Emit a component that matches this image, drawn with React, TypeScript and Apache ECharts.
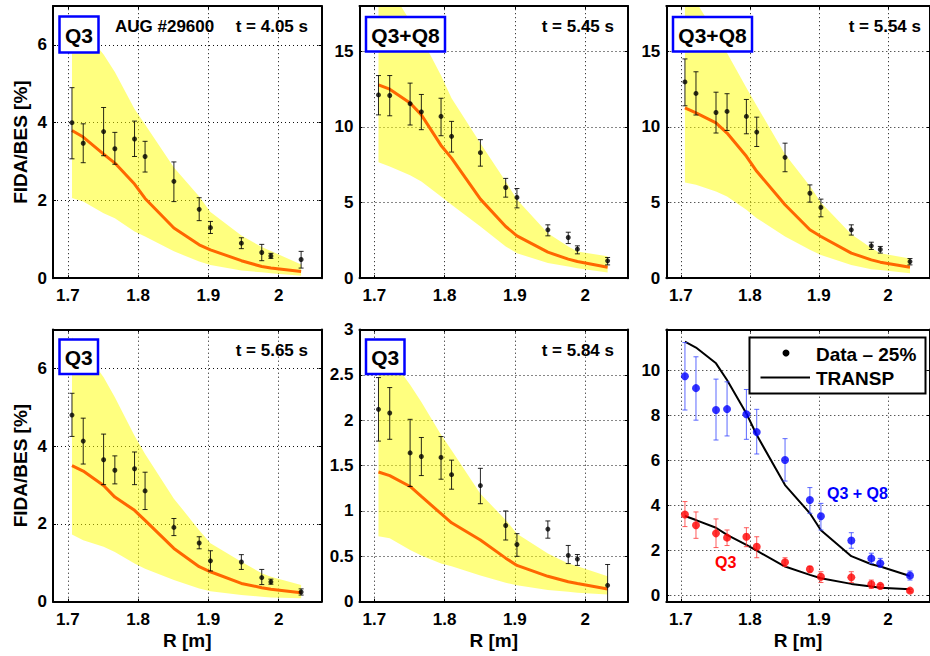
import React, { useEffect, useRef } from 'react';
import * as echarts from 'echarts';

// Major radius positions of the measurement channels [m]
const R = [1.706, 1.722, 1.751, 1.767, 1.795, 1.81, 1.851, 1.887, 1.903, 1.947, 1.976, 1.989, 2.032];
const X_TICKS = [1.7, 1.8, 1.9, 2.0];

// Panel 1: Q3, t = 4.05 s
const p1Data = [4.0, 3.47, 3.77, 3.33, 3.58, 3.13, 2.49, 1.77, 1.3, 0.9, 0.66, 0.57, 0.48];
const p1Hi = [4.9, 3.97, 4.39, 3.75, 4.04, 3.52, 2.99, 2.07, 1.46, 1.04, 0.87, 0.64, 0.69];
const p1Lo = [3.07, 2.97, 3.15, 2.93, 3.13, 2.73, 1.97, 1.48, 1.15, 0.76, 0.45, 0.51, 0.26];
const p1Transp = [3.8, 3.63, 3.19, 2.96, 2.42, 2.05, 1.29, 0.86, 0.73, 0.45, 0.3, 0.26, 0.17];
const p1BandHi = [6.6, 6.4, 5.75, 5.3, 4.35, 3.95, 2.85, 2.1, 1.7, 1.1, 0.8, 0.7, 0.35];
const p1BandLo = [2.06, 1.97, 1.67, 1.54, 1.2, 1.07, 0.69, 0.43, 0.34, 0.2, 0.15, 0.13, 0.06];

// Panel 2: Q3+Q8, t = 5.45 s
const p2Data = [12.12, 12.08, 11.54, 11.0, 10.7, 9.38, 8.3, 6.0, 5.34, 3.2, 2.69, 1.92, 1.15];
const p2Hi = [13.4, 13.4, 12.9, 12.15, 11.9, 10.37, 9.16, 6.6, 5.93, 3.53, 3.04, 2.14, 1.37];
const p2Lo = [10.8, 10.74, 10.13, 9.82, 9.42, 8.34, 7.41, 5.36, 4.65, 2.8, 2.29, 1.61, 0.88];
const p2Transp = [12.79, 12.5, 11.58, 10.8, 8.78, 7.94, 5.23, 3.42, 2.8, 1.72, 1.26, 1.1, 0.73];
const p2BandHi = [19.5, 19.2, 17.0, 15.9, 13.4, 11.9, 8.93, 6.4, 5.2, 2.98, 2.1, 1.76, 1.45];
const p2BandLo = [7.66, 7.39, 6.8, 6.4, 5.4, 4.85, 3.42, 2.1, 1.65, 1.0, 0.77, 0.66, 0.38];

// Panel 3: Q3+Q8, t = 5.54 s
const p3Data = [12.98, 12.22, 10.96, 11.03, 10.7, 9.66, 7.99, 5.62, 4.68, 3.2, 2.14, 1.9, 1.1];
const p3Hi = [14.5, 13.65, 12.3, 12.2, 11.82, 10.65, 8.93, 6.17, 5.23, 3.53, 2.38, 2.1, 1.3];
const p3Lo = [11.4, 10.79, 9.6, 9.77, 9.55, 8.71, 7.04, 5.03, 4.06, 2.85, 1.9, 1.66, 0.88];
const p3Transp = [11.26, 10.93, 10.27, 9.6, 8.06, 7.07, 4.86, 3.2, 2.76, 1.66, 1.21, 1.06, 0.73];
const p3BandHi = [19.5, 18.3, 16.1, 14.9, 12.6, 11.4, 8.2, 6.1, 5.0, 2.9, 2.0, 1.65, 1.3];
const p3BandLo = [6.33, 6.18, 5.74, 5.4, 4.52, 3.97, 2.76, 1.88, 1.54, 0.88, 0.6, 0.55, 0.33];

// Panel 4: Q3, t = 5.65 s
const p4Data = [4.8, 4.13, 3.65, 3.38, 3.42, 2.85, 1.91, 1.51, 1.05, 1.02, 0.62, 0.51, 0.25];
const p4Hi = [5.36, 4.72, 4.31, 3.75, 3.85, 3.33, 2.14, 1.67, 1.31, 1.21, 0.83, 0.58, 0.33];
const p4Lo = [4.25, 3.54, 3.01, 3.03, 3.01, 2.37, 1.7, 1.36, 0.79, 0.83, 0.44, 0.45, 0.17];
const p4Transp = [3.5, 3.36, 2.99, 2.69, 2.35, 2.09, 1.37, 0.9, 0.77, 0.47, 0.36, 0.32, 0.23];
const p4BandHi = [6.8, 6.5, 5.77, 5.26, 4.27, 3.8, 2.65, 1.84, 1.5, 1.03, 0.73, 0.64, 0.43];
const p4BandLo = [1.73, 1.58, 1.41, 1.28, 0.98, 0.85, 0.56, 0.34, 0.27, 0.17, 0.13, 0.11, 0.09];

// Panel 5: Q3, t = 5.84 s
const p5Data = [2.12, 2.08, 1.64, 1.6, 1.59, 1.4, 1.28, 0.84, 0.63, 0.8, 0.51, 0.47, 0.18];
const p5Hi = [2.47, 2.36, 2.01, 1.81, 1.82, 1.56, 1.47, 1.0, 0.75, 0.89, 0.62, 0.52, 0.41];
const p5Lo = [1.77, 1.79, 1.27, 1.39, 1.35, 1.24, 1.08, 0.68, 0.5, 0.7, 0.42, 0.4, -0.06];
const p5Transp = [1.43, 1.39, 1.27, 1.16, 0.97, 0.87, 0.68, 0.48, 0.4, 0.28, 0.22, 0.2, 0.14];
const p5BandHi = [2.8, 2.7, 2.39, 2.2, 1.84, 1.67, 1.19, 0.9, 0.75, 0.53, 0.42, 0.39, 0.28];
const p5BandLo = [0.72, 0.7, 0.57, 0.51, 0.42, 0.39, 0.29, 0.21, 0.18, 0.13, 0.11, 0.1, 0.08];

// Panel 6: comparison (Data - 25%) vs TRANSP
const p6Blue = [9.73, 9.2, 8.23, 8.27, 8.04, 7.25, 6.01, 4.24, 3.52, 2.44, 1.65, 1.43, 0.89];
const p6BlueHi = [11.22, 10.59, 9.6, 9.48, 9.14, 8.26, 6.96, 4.79, 4.09, 2.79, 1.88, 1.65, 1.09];
const p6BlueLo = [8.23, 7.78, 6.9, 7.08, 6.93, 6.28, 5.08, 3.65, 2.91, 2.1, 1.43, 1.26, 0.69];
const p6Red = [3.6, 3.12, 2.76, 2.57, 2.61, 2.17, 1.48, 1.17, 0.84, 0.81, 0.5, 0.43, 0.22];
const p6RedHi = [4.17, 3.71, 3.4, 2.91, 3.01, 2.61, 1.68, 1.3, 1.06, 1.06, 0.69, 0.5, 0.28];
const p6RedLo = [3.06, 2.54, 2.13, 2.22, 2.17, 1.68, 1.29, 1.05, 0.58, 0.58, 0.32, 0.37, 0.16];
const p6TranspQ38 = [11.26, 11.0, 10.3, 9.56, 8.08, 7.12, 4.9, 3.65, 2.9, 1.75, 1.39, 1.29, 0.87];
const p6TranspQ3 = [3.53, 3.35, 3.01, 2.69, 2.25, 1.99, 1.29, 0.92, 0.77, 0.52, 0.4, 0.35, 0.28];

const FONT = '"Liberation Sans", Arial, Helvetica, sans-serif';
const X_MIN = 1.679;
const X_MAX = 2.061;
const LEFTS = [53, 359.5, 666.3];
const TOPS = [6, 329.5];
const GW = 268.5;
const GH = 272.2;

type Panel = {
  row: number; col: number; yMin: number; yMax: number; yTicks: number[]; yName: string;
  data?: number[]; hi?: number[]; lo?: number[]; transp?: number[]; bandHi?: number[]; bandLo?: number[];
};

const panels: Panel[] = [
  { row: 0, col: 0, yMin: 0, yMax: 7, yTicks: [0, 2, 4, 6], yName: 'FIDA/BES [%]', data: p1Data, hi: p1Hi, lo: p1Lo, transp: p1Transp, bandHi: p1BandHi, bandLo: p1BandLo },
  { row: 0, col: 1, yMin: 0, yMax: 18, yTicks: [0, 5, 10, 15], yName: '', data: p2Data, hi: p2Hi, lo: p2Lo, transp: p2Transp, bandHi: p2BandHi, bandLo: p2BandLo },
  { row: 0, col: 2, yMin: 0, yMax: 18, yTicks: [0, 5, 10, 15], yName: '', data: p3Data, hi: p3Hi, lo: p3Lo, transp: p3Transp, bandHi: p3BandHi, bandLo: p3BandLo },
  { row: 1, col: 0, yMin: 0, yMax: 7, yTicks: [0, 2, 4, 6], yName: 'FIDA/BES [%]', data: p4Data, hi: p4Hi, lo: p4Lo, transp: p4Transp, bandHi: p4BandHi, bandLo: p4BandLo },
  { row: 1, col: 1, yMin: 0, yMax: 3, yTicks: [0, 0.5, 1, 1.5, 2, 2.5, 3], yName: '', data: p5Data, hi: p5Hi, lo: p5Lo, transp: p5Transp, bandHi: p5BandHi, bandLo: p5BandLo },
  { row: 1, col: 2, yMin: -0.27, yMax: 11.8, yTicks: [0, 2, 4, 6, 8, 10], yName: '' },
];

const labelStyle = { fontSize: 17, fontWeight: 'bold' as const, color: '#000', fontFamily: FONT };

function gridLineSeries(idx: number, p: Panel) {
  const lines: any[] = [];
  X_TICKS.forEach((v) => { if (v > X_MIN && v < X_MAX) lines.push({ xAxis: v }); });
  p.yTicks.forEach((v) => { if (v > p.yMin + 1e-9 && v < p.yMax - 1e-9) lines.push({ yAxis: v }); });
  return {
    type: 'line',
    xAxisIndex: idx * 2,
    yAxisIndex: idx * 2,
    data: [],
    silent: true,
    z: 0,
    markLine: {
      silent: true,
      z: 0,
      symbol: ['none', 'none'],
      animation: false,
      label: { show: false },
      emphasis: { disabled: true },
      lineStyle: { type: [1, 3], color: '#111', width: 1 },
      data: lines,
    },
  };
}

function errorBarSeries(idx: number, lo: number[], hi: number[], color: string, opacity: number) {
  return {
    type: 'custom',
    xAxisIndex: idx * 2,
    yAxisIndex: idx * 2,
    clip: true,
    silent: true,
    z: 3,
    data: R.map((r, k) => [r, lo[k], hi[k]]),
    encode: { x: 0, y: [1, 2] },
    renderItem: (params: any, api: any) => {
      const x = api.value(0);
      const pLo = api.coord([x, api.value(1)]);
      const pHi = api.coord([x, api.value(2)]);
      const hw = 2.5;
      const style = { stroke: color, lineWidth: 1, opacity };
      return {
        type: 'group',
        children: [
          { type: 'line', shape: { x1: pLo[0], y1: pLo[1], x2: pHi[0], y2: pHi[1] }, style },
          { type: 'line', shape: { x1: pLo[0] - hw, y1: pLo[1], x2: pLo[0] + hw, y2: pLo[1] }, style },
          { type: 'line', shape: { x1: pHi[0] - hw, y1: pHi[1], x2: pHi[0] + hw, y2: pHi[1] }, style },
        ],
      };
    },
  };
}

function bandSeries(idx: number, lo: number[], hi: number[]) {
  return {
    type: 'custom',
    xAxisIndex: idx * 2,
    yAxisIndex: idx * 2,
    clip: true,
    silent: true,
    z: 1,
    data: [[1.8, 1]],
    renderItem: (params: any, api: any) => {
      const pts: number[][] = [];
      R.forEach((r, k) => pts.push(api.coord([r, hi[k]])));
      for (let k = R.length - 1; k >= 0; k--) pts.push(api.coord([R[k], lo[k]]));
      const cs = params.coordSys;
      return {
        type: 'polygon',
        shape: { points: pts },
        style: { fill: 'rgba(255,255,0,0.5)', stroke: 'none' },
        clipPath: { type: 'rect', shape: { x: cs.x, y: cs.y, width: cs.width, height: cs.height } },
      };
    },
  };
}

function lineSeries(idx: number, vals: number[], color: string, width: number) {
  return {
    type: 'line',
    xAxisIndex: idx * 2,
    yAxisIndex: idx * 2,
    data: R.map((r, k) => [r, vals[k]]),
    showSymbol: false,
    symbol: 'none',
    clip: true,
    silent: true,
    z: 2,
    lineStyle: { color, width },
  };
}

function pointSeries(idx: number, vals: number[], color: string, size: number) {
  return {
    type: 'scatter',
    xAxisIndex: idx * 2,
    yAxisIndex: idx * 2,
    data: R.map((r, k) => [r, vals[k]]),
    symbol: 'circle',
    symbolSize: size,
    itemStyle: { color },
    clip: true,
    silent: true,
    z: 4,
  };
}

export default function App() {
  const ref = useRef<HTMLDivElement>(null);
  useEffect(() => {
    const chart = echarts.init(ref.current!, null, { renderer: 'svg' });

    const grid: any[] = [];
    const xAxis: any[] = [];
    const yAxis: any[] = [];
    const series: any[] = [];

    panels.forEach((p, i) => {
      grid.push({ left: LEFTS[p.col], top: TOPS[p.row], width: GW, height: GH, containLabel: false });
      const axisLine = { show: true, onZero: false, lineStyle: { color: '#000', width: 2 } };
      const tickLine = { color: '#000', width: 1 };
      xAxis.push({
        gridIndex: i, type: 'value', min: X_MIN, max: X_MAX, position: 'bottom',
        axisLine,
        axisTick: { show: true, inside: true, length: 3, customValues: X_TICKS, lineStyle: tickLine },
        axisLabel: { ...labelStyle, margin: 9, customValues: X_TICKS },
        splitLine: { show: false },
        name: p.row === 1 ? 'R [m]' : '',
        nameLocation: 'middle', nameGap: 29,
        nameTextStyle: { fontSize: 19, fontWeight: 'bold', color: '#000', fontFamily: FONT },
      });
      xAxis.push({
        gridIndex: i, type: 'value', min: X_MIN, max: X_MAX, position: 'top', z: 5,
        axisLine,
        axisTick: { show: true, inside: true, length: 3, customValues: X_TICKS, lineStyle: tickLine },
        axisLabel: { show: false },
        splitLine: { show: false },
      });
      yAxis.push({
        gridIndex: i, type: 'value', min: p.yMin, max: p.yMax, position: 'left',
        axisLine,
        axisTick: { show: true, inside: true, length: 3, customValues: p.yTicks, lineStyle: tickLine },
        axisLabel: { ...labelStyle, margin: 6, customValues: p.yTicks },
        splitLine: { show: false },
        name: p.yName,
        nameLocation: 'middle', nameGap: 23,
        nameTextStyle: { fontSize: 19, fontWeight: 'bold', color: '#000', fontFamily: FONT },
      });
      yAxis.push({
        gridIndex: i, type: 'value', min: p.yMin, max: p.yMax, position: 'right', z: 5,
        axisLine,
        axisTick: { show: true, inside: true, length: 3, customValues: p.yTicks, lineStyle: tickLine },
        axisLabel: { show: false },
        splitLine: { show: false },
      });

      series.push(gridLineSeries(i, p));
      if (p.data) {
        series.push(bandSeries(i, p.bandLo!, p.bandHi!));
        series.push(lineSeries(i, p.transp!, '#ff6600', 3));
        series.push(errorBarSeries(i, p.lo!, p.hi!, '#000', 0.85));
        series.push(pointSeries(i, p.data, '#000', 5));
      } else {
        series.push(lineSeries(i, p6TranspQ38, '#000', 2));
        series.push(lineSeries(i, p6TranspQ3, '#000', 2));
        series.push(errorBarSeries(i, p6BlueLo, p6BlueHi, '#3344ff', 0.8));
        series.push(errorBarSeries(i, p6RedLo, p6RedHi, '#ff3333', 0.8));
        series.push(pointSeries(i, p6Blue, '#0000ff', 8));
        series.push(pointSeries(i, p6Red, '#ff0000', 8));
      }
    });

    const boldFont = (s: number) => `bold ${s}px ${FONT}`;
    const txt = (text: string, x: number, y: number, size: number, align: string, fill = '#000') => ({
      type: 'text', x, y, z: 100, silent: true,
      style: { text, font: boldFont(size), fill, align, verticalAlign: 'middle' },
    });
    const box = (x: number, y: number, w: number, h: number, label: string) => ([
      { type: 'rect', z: 99, silent: true, shape: { x, y, width: w, height: h }, style: { fill: '#fff', stroke: '#0000ff', lineWidth: 2.5 } },
      txt(label, x + w / 2, y + h / 2 + 1, 21, 'center'),
    ]);

    const graphic: any[] = [
      ...box(59.5, 16.5, 39, 36, 'Q3'),
      ...box(366, 17, 79, 34.5, 'Q3+Q8'),
      ...box(673, 17, 79, 34.5, 'Q3+Q8'),
      ...box(59.5, 339.5, 38.5, 34.5, 'Q3'),
      ...box(366, 339.5, 38.5, 34.5, 'Q3'),
      txt('AUG #29600', 115, 26, 17, 'left'),
      txt('t = 4.05 s', 308, 26, 17, 'right'),
      txt('t = 5.45 s', 614, 26, 17, 'right'),
      txt('t = 5.54 s', 921, 26, 17, 'right'),
      txt('t = 5.65 s', 308, 350, 17, 'right'),
      txt('t = 5.84 s', 614, 350, 17, 'right'),
      txt('Q3 + Q8', 827, 493, 16, 'left', '#0000ff'),
      txt('Q3', 715, 562, 16, 'left', '#ff0000'),
      // legend of the comparison panel
      { type: 'rect', z: 99, silent: true, shape: { x: 749.5, y: 337.5, width: 176, height: 56 }, style: { fill: '#fff', stroke: '#000', lineWidth: 2 } },
      { type: 'circle', z: 100, silent: true, shape: { cx: 786, cy: 353, r: 3.5 }, style: { fill: '#000' } },
      { type: 'line', z: 100, silent: true, shape: { x1: 760.5, y1: 377.5, x2: 810, y2: 377.5 }, style: { stroke: '#000', lineWidth: 2 } },
      txt('Data – 25%', 816, 354, 19, 'left'),
      txt('TRANSP', 816, 378, 19, 'left'),
    ];

    chart.setOption({
      animation: false,
      backgroundColor: '#fff',
      grid, xAxis, yAxis, series, graphic,
    });
    return () => chart.dispose();
  }, []);
  return <div ref={ref} style={{ position: 'fixed', left: 0, top: 0, width: 930, height: 656, background: '#fff' }} />;
}
